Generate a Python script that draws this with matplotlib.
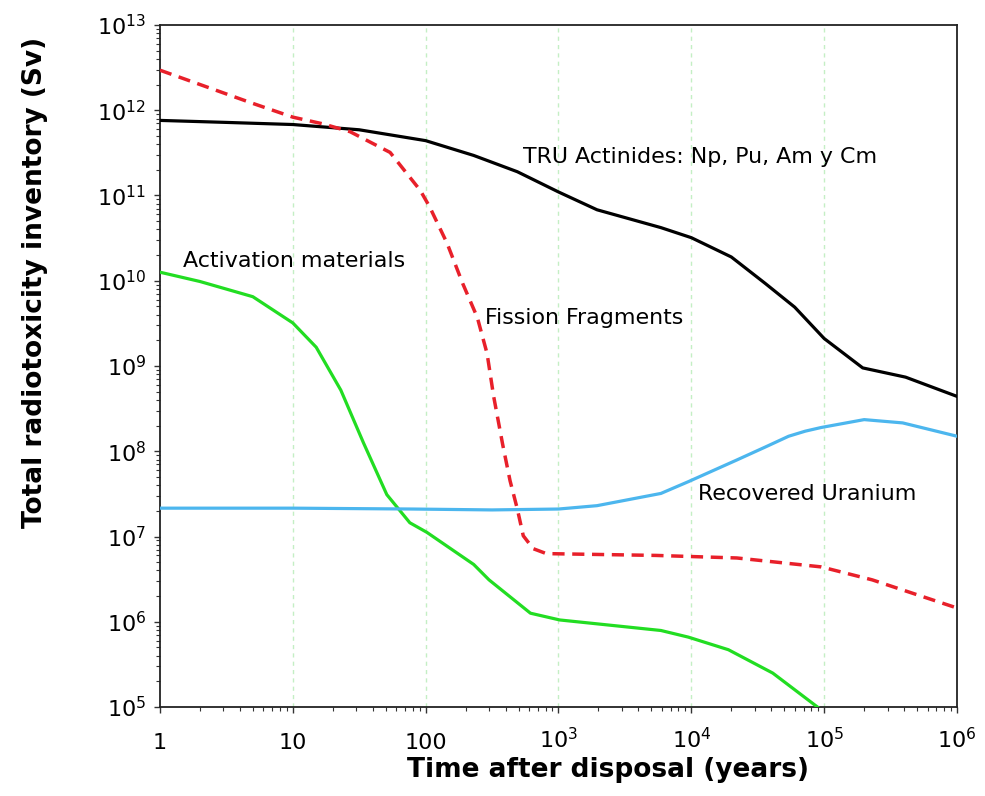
import matplotlib
matplotlib.use("Agg")
import matplotlib.pyplot as plt
from matplotlib.ticker import FixedLocator, LogLocator, NullFormatter

# ---------------- data ----------------
tru_t = [1, 3.16, 10, 31.6, 100, 230, 490, 1000, 1950, 5900, 1.0e4, 2.0e4,
         3.6e4, 6.0e4, 1.0e5, 1.95e5, 4.1e5, 1.0e6]
tru_v = [7.6e11, 7.2e11, 6.8e11, 5.9e11, 4.4e11, 2.95e11, 1.9e11, 1.1e11,
         6.8e10, 4.2e10, 3.2e10, 1.9e10, 9.3e9, 4.9e9, 2.1e9, 9.5e8, 7.4e8, 4.4e8]

ff_t = [1, 4.8, 10, 17, 27, 54, 91, 107, 145, 190, 245, 290, 325, 380, 432,
        490, 543, 645, 810, 5400, 2.2e4, 9.5e4, 2.3e5, 1.0e6]
ff_v = [2.95e12, 1.23e12, 8.3e11, 6.9e11, 5.6e11, 3.2e11, 1.15e11, 7.4e10,
        2.75e10, 9.3e9, 3.7e9, 1.4e9, 4.4e8, 1.2e8, 4.5e7, 2.1e7, 1.02e7,
        7.2e6, 6.3e6, 6.0e6, 5.6e6, 4.4e6, 3.1e6, 1.45e6]

act_t = [1, 2, 5, 10, 15, 23, 34, 51, 76, 102, 230, 300, 615, 1020, 5900,
         9500, 1.9e4, 4.1e4, 8.9e4]
act_v = [1.26e10, 9.8e9, 6.5e9, 3.2e9, 1.66e9, 5.2e8, 1.26e8, 3.1e7, 1.45e7,
         1.12e7, 4.7e6, 3.1e6, 1.26e6, 1.05e6, 7.9e5, 6.6e5, 4.7e5, 2.5e5, 1.0e5]

ru_t = [1, 10, 80, 316, 1000, 1950, 5900, 9500, 2.2e4, 3.6e4, 5.4e4, 7.2e4,
        9.5e4, 2.0e5, 3.9e5, 1.0e6]
ru_v = [2.15e7, 2.15e7, 2.1e7, 2.05e7, 2.1e7, 2.3e7, 3.2e7, 4.4e7, 7.9e7,
        1.12e8, 1.5e8, 1.72e8, 1.9e8, 2.35e8, 2.15e8, 1.5e8]

x_ticks = [1, 10, 100, 1e3, 1e4, 1e5, 1e6]
x_tick_labels = ["1", "10", "100", r"$10^3$", r"$10^4$", r"$10^5$", r"$10^6$"]
y_ticks = [1e5, 1e6, 1e7, 1e8, 1e9, 1e10, 1e11, 1e12, 1e13]
y_tick_labels = [r"$10^{%d}$" % e for e in range(5, 14)]

labels = {
    "tru": "TRU Actinides: Np, Pu, Am y Cm",
    "act": "Activation materials",
    "ff": "Fission Fragments",
    "ru": "Recovered Uranium",
}

# ---------------- figure ----------------
plt.rcParams["font.family"] = ["DejaVu Sans"]
plt.rcParams["mathtext.fontset"] = "dejavusans"

fig = plt.figure(figsize=(9.85, 7.96), dpi=100)
ax = fig.add_axes([0.1624, 0.1118, 0.8092, 0.8568])

ax.set_xscale("log")
ax.set_yscale("log")
ax.set_xlim(1, 1e6)
ax.set_ylim(1e5, 1e13)

# vertical grid at decades
for xv in x_ticks[1:-1]:
    ax.axvline(xv, color="#c4efc4", lw=1.0, ls=(0, (3, 3)), zorder=0)

ax.plot(tru_t, tru_v, color="black", lw=2.3, zorder=3)
ax.plot(ff_t, ff_v, color="#e8202a", lw=2.5, ls=(0, (3.5, 2.2)), zorder=3)
ax.plot(act_t, act_v, color="#22dd22", lw=2.3, zorder=3, clip_on=True)
ax.plot(ru_t, ru_v, color="#4cb6ee", lw=2.3, zorder=3)

fs_txt = 15.9
ax.text(0.455, 0.806, labels["tru"], transform=ax.transAxes, fontsize=fs_txt,
        ha="left", va="center")
ax.text(0.029, 0.654, labels["act"], transform=ax.transAxes, fontsize=fs_txt,
        ha="left", va="center")
ax.text(0.408, 0.571, labels["ff"], transform=ax.transAxes, fontsize=fs_txt,
        ha="left", va="center")
ax.text(0.675, 0.313, labels["ru"], transform=ax.transAxes, fontsize=fs_txt,
        ha="left", va="center")

# ticks
ax.xaxis.set_major_locator(FixedLocator(x_ticks))
ax.set_xticklabels(x_tick_labels)
ax.xaxis.set_minor_locator(LogLocator(base=10, subs=range(2, 10), numticks=20))
ax.xaxis.set_minor_formatter(NullFormatter())
ax.yaxis.set_major_locator(FixedLocator(y_ticks))
ax.set_yticklabels(y_tick_labels)
ax.yaxis.set_minor_locator(LogLocator(base=10, subs=range(2, 10), numticks=20))
ax.yaxis.set_minor_formatter(NullFormatter())

ax.tick_params(which="major", direction="out", length=4.5, width=1.0,
               labelsize=16, color="#333333")
ax.tick_params(which="minor", direction="out", length=2.8, width=0.8,
               color="#333333")
ax.tick_params(axis="x", which="major", pad=25.5)
ax.tick_params(axis="y", which="major", pad=5.5)
for lbl in ax.get_xticklabels():
    lbl.set_va("baseline")

for sp in ax.spines.values():
    sp.set_linewidth(1.3)
    sp.set_color("#222222")

ax.set_xlabel("Time after disposal (years)", fontsize=19, fontweight="bold")
ax.set_ylabel("Total radiotoxicity inventory (Sv)", fontsize=19,
              fontweight="bold")
ax.xaxis.set_label_coords(0.562, -0.074)
ax.yaxis.set_label_coords(-0.14, 0.622)

fig.savefig("out.png", dpi=100)
